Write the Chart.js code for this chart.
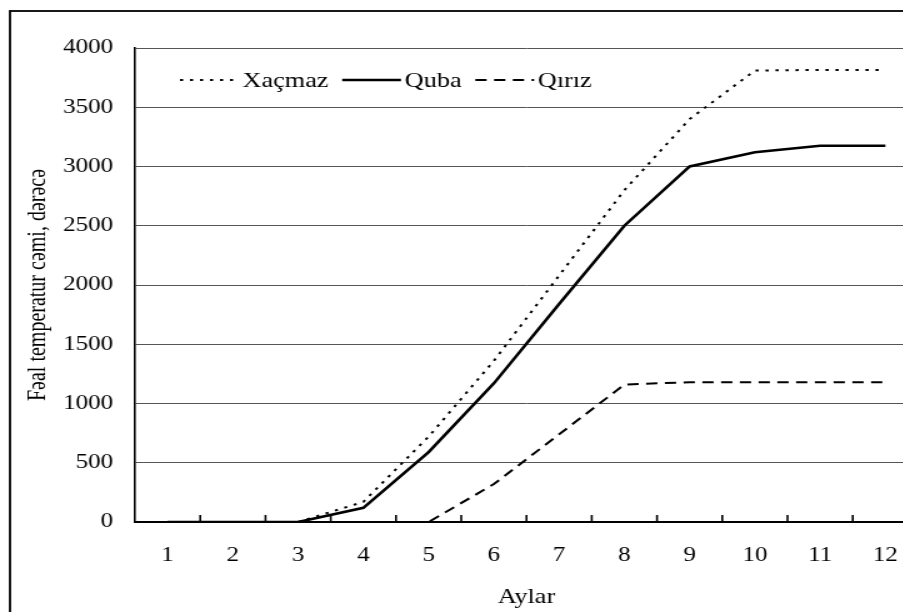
<!DOCTYPE html>
<html>
<head>
<meta charset="utf-8">
<title>Fəal temperatur cəmi</title>
<script src="https://cdn.jsdelivr.net/npm/chart.js@4.4.1/dist/chart.umd.min.js"></script>
<style>
    html, body { margin: 0; padding: 0; background: #fff; overflow: hidden; width: 903px; height: 612px; }
    #wrap { width: 745px; height: 612px; transform: scaleX(1.25); transform-origin: 0 0; }
</style>
</head>
<body>
<div id="wrap"><canvas id="tempChart" width="745" height="612"></canvas></div>
<script>
// months and accumulated active temperature per station
const months = ['1', '2', '3', '4', '5', '6', '7', '8', '9', '10', '11', '12'];
const xacmaz = [0, 0, 0, 170, 720, 1360, 2080, 2800, 3400, 3810, 3815, 3815];
const quba = [0, 0, 0, 120, 590, 1170, 1840, 2500, 3000, 3120, 3175, 3175];
const qiriz = [0, 0, 0, 0, 0, 320, 740, 1160, 1180, 1180, 1180, 1180];
const yTicks = [0, 500, 1000, 1500, 2000, 2500, 3000, 3500, 4000];

const serif = "'Liberation Serif', 'Times New Roman', serif";
Chart.defaults.color = '#000';
Chart.defaults.font.family = serif;

// frame, inward x ticks and the legend inside the plot
const extras = {
    id: 'extras',
    beforeDraw(chart) {
        const ctx = chart.ctx;
        ctx.save();
        ctx.fillStyle = '#fff';
        ctx.fillRect(0, 0, chart.width, chart.height);
        ctx.strokeStyle = '#000';
        ctx.lineWidth = 1.8;
        ctx.strokeRect(8, 11, chart.width + 40, chart.height + 40);
        ctx.restore();
    },
    afterDatasetsDraw(chart) {
        const ctx = chart.ctx;
        const area = chart.chartArea;
        const x = chart.scales.x;
        const step = x.width / months.length;

        ctx.save();
        ctx.strokeStyle = '#000';
        ctx.lineWidth = 1.6;
        for (let i = 1; i < months.length; i++) {
            const px = x.getPixelForValue(i) - step / 2;
            ctx.beginPath();
            ctx.moveTo(px, area.bottom);
            ctx.lineTo(px, area.bottom - 7);
            ctx.stroke();
        }

        // legend
        let lx = area.left + 36;
        const ly = 80;
        ctx.font = '21px ' + serif;
        ctx.textBaseline = 'middle';
        ctx.fillStyle = '#000';
        chart.data.datasets.forEach(function (ds) {
            ctx.beginPath();
            ctx.setLineDash(ds.borderDash || []);
            ctx.lineWidth = ds.borderWidth;
            ctx.strokeStyle = ds.borderColor;
            ctx.moveTo(lx, ly);
            ctx.lineTo(lx + 47, ly);
            ctx.stroke();
            ctx.setLineDash([]);
            lx += 50;
            ctx.fillText(ds.label, lx, ly + 1);
            lx += ctx.measureText(ds.label).width + 11;
        });
        ctx.restore();
    }
};

const ctx = document.getElementById('tempChart').getContext('2d');
const tempChart = new Chart(ctx, {
    type: 'line',
    data: {
        labels: months,
        datasets: [{
            label: 'Xaçmaz',
            data: xacmaz,
            borderColor: '#000',
            backgroundColor: 'transparent',
            borderWidth: 2,
            borderDash: [2.5, 5.5]
        }, {
            label: 'Quba',
            data: quba,
            borderColor: '#000',
            backgroundColor: 'transparent',
            borderWidth: 2.6
        }, {
            label: 'Qırız',
            data: qiriz,
            borderColor: '#000',
            backgroundColor: 'transparent',
            borderWidth: 2,
            borderDash: [9, 6]
        }]
    },
    options: {
        responsive: false,
        animation: false,
        devicePixelRatio: 1,
        layout: { padding: { left: 0, top: 48, right: 10.6, bottom: 0 } },
        elements: {
            line: { tension: 0 },
            point: { radius: 0, hoverRadius: 0 }
        },
        plugins: {
            legend: { display: false },
            tooltip: { enabled: false }
        },
        scales: {
            x: {
                offset: true,
                grid: { display: false, drawTicks: false },
                border: { display: true, color: '#000', width: 2 },
                ticks: { padding: 22, font: { size: 20 }, maxRotation: 0 },
                title: {
                    display: true,
                    text: 'Aylar',
                    font: { size: 21 },
                    padding: { top: 0, bottom: 2.4 }
                },
                afterFit(scale) { scale.height = 90; }
            },
            y: {
                min: 0,
                max: 4000,
                afterBuildTicks(scale) {
                    scale.ticks = yTicks.map(v => ({ value: v }));
                },
                grid: { color: '#555', lineWidth: 1, drawTicks: false },
                border: { display: true, color: '#000', width: 1.6 },
                ticks: {
                    padding: 17.6,
                    font: { size: 20 },
                    callback: value => String(value)
                },
                title: {
                    display: true,
                    text: 'Fəal temperatur cəmi, dərəcə',
                    font: { size: 20 },
                    padding: { top: 19, bottom: 0 }
                },
                afterFit(scale) { scale.width = 108; }
            }
        }
    },
    plugins: [extras]
});
</script>
</body>
</html>
